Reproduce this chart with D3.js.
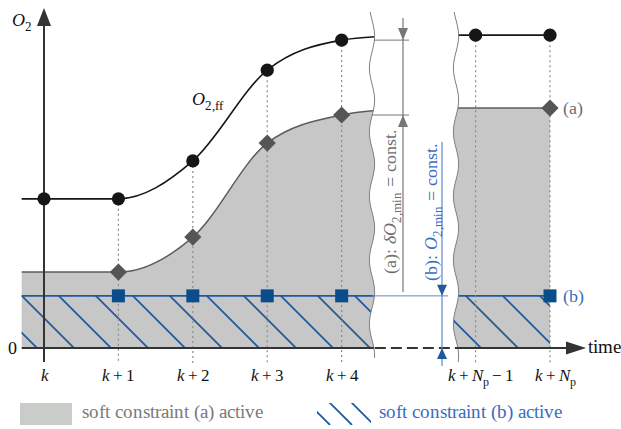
<!DOCTYPE html>
<html>
<head>
<meta charset="utf-8">
<script src="https://cdn.jsdelivr.net/npm/d3@7"></script>
<style>
  @font-face { font-family: "ChartSerif"; font-style: normal; src: local("Liberation Serif"), local("LiberationSerif"); }
  @font-face { font-family: "ChartSerif"; font-style: italic; src: local("Liberation Serif Italic"), local("LiberationSerif-Italic"); }
  html, body { margin: 0; padding: 0; background: #fff; }
  svg text, svg tspan { font-family: "ChartSerif", "Liberation Serif", "Times New Roman", serif; }
</style>
</head>
<body>
<svg id="chart" width="621" height="429"></svg>
<script>
// Prediction horizon steps ("_" marks a subscript)
const stepLabels = ["k", "k+1", "k+2", "k+3", "k+4", "k+N_p−1", "k+N_p"];
// Position of each step along the (broken) time axis
const stepSlots = [0, 1, 2, 3, 4, 5.8, 6.8];

// Feed-forward O2 trajectory O2,ff at each step
const o2ff = [4.52, 4.52, 5.67, 8.42, 9.33, 9.48, 9.48];
// Soft constraint (a): bound following O2,ff at a constant distance δO2,min
const o2a = [2.30, 2.30, 3.36, 6.21, 7.06, 7.27, 7.27];
// Soft constraint (b): constant bound O2,min
const o2min = 1.58;
// Values of both trajectories just past the left axis break
const ffBeyond = 9.45;
const aBeyond = 7.22;

// Which steps carry markers
const circleSteps = [0, 1, 2, 3, 4, 5, 6];
const diamondSteps = [1, 2, 3, 4, 6];
const squareSteps = [1, 2, 3, 4, 6];
const dottedSteps = [1, 2, 3, 4, 5, 6];

const W = 621, H = 429;
const FONT = "ChartSerif, Liberation Serif, serif";
const svg = d3.select("#chart");
const x = d3.scaleLinear().domain([0, 6.8]).range([44, 550]);
const y = d3.scaleLinear().domain([0, 10]).range([348, 18]);

const C = {
  fill: "#c7c7c7",
  edge: "#5c5c5c",
  diamond: "#555555",
  circle: "#161616",
  blue: "#1f5b9b",
  square: "#0b4d8b",
  blueText: "#3a6dc0",
  blueLight: "#5b8bc8",
  gray: "#777777",
  axis: "#333333",
  dotted: "#8c8c8c"
};

const xStart = x(-0.3);
const breakL = 372, breakR = 456;
const wave = (base, v) => base + 2.6 * Math.sin((v - 20) / 64 * 2 * Math.PI);
const waveLine = (base, y0, y1) => d3.range(y0, y1 + 0.1, 2).map(v => [wave(base, v), v]);
const poly = pts => "M" + pts.map(p => p[0].toFixed(2) + "," + p[1].toFixed(2)).join("L") + "Z";
const line = d3.line();

// ---- clip regions on either side of the axis break
const defs = svg.append("defs");
defs.append("clipPath").attr("id", "clipL").append("path")
  .attr("d", poly([[-10, 0], ...waveLine(breakL, 0, H), [-10, H]]));
defs.append("clipPath").attr("id", "clipR").append("path")
  .attr("d", poly([[W + 20, 0], ...waveLine(breakR, 0, H), [W + 20, H]]));
defs.append("clipPath").attr("id", "band").append("rect")
  .attr("x", xStart).attr("y", y(o2min))
  .attr("width", x(6.8) - xStart).attr("height", y(0) - y(o2min));
defs.append("clipPath").attr("id", "legendHatch").append("rect")
  .attr("x", 317).attr("y", 403).attr("width", 54).attr("height", 22);

// ---- data for the visible pieces of each trajectory
const leftIdx = [0, 1, 2, 3, 4];
const ffLeft = [[-0.3, o2ff[0]], ...leftIdx.map(i => [stepSlots[i], o2ff[i]]), [4.6, ffBeyond]];
const aLeft = [[-0.3, o2a[0]], ...leftIdx.map(i => [stepSlots[i], o2a[i]]), [4.6, aBeyond]];
const ffRight = [[5.0, o2ff[5]], [stepSlots[5], o2ff[5]], [stepSlots[6], o2ff[6]]];
const aRight = [[5.0, o2a[5]], [stepSlots[6], o2a[6]]];

const area = d3.area().x(d => x(d[0])).y0(y(0)).y1(d => y(d[1]));
const curve = d3.line().x(d => x(d[0])).y(d => y(d[1]));

const gL = svg.append("g").attr("clip-path", "url(#clipL)");
const gR = svg.append("g").attr("clip-path", "url(#clipR)");

// grey region: soft constraint (a) active
gL.append("path").datum(aLeft).attr("d", area.curve(d3.curveMonotoneX)).attr("fill", C.fill);
gR.append("path").datum(aRight).attr("d", area.curve(d3.curveLinear)).attr("fill", C.fill);

// hatching: soft constraint (b) active
const hatchLines = d3.range(-2, 16).map(n => {
  const xb = 37 + 37 * n;
  return [[xb - 70, y(0) - 70], [xb + 10, y(0) + 10]];
});
[gL, gR].forEach(g => {
  g.append("g").attr("clip-path", "url(#band)")
    .selectAll("path").data(hatchLines).join("path")
    .attr("d", line).attr("stroke", C.blue).attr("stroke-width", 1.8).attr("fill", "none");
});

// O2,min line
gL.append("line").attr("x1", xStart).attr("x2", x(4.6)).attr("y1", y(o2min)).attr("y2", y(o2min))
  .attr("stroke", C.blue).attr("stroke-width", 1.6);
gR.append("line").attr("x1", x(5.0)).attr("x2", x(6.8)).attr("y1", y(o2min)).attr("y2", y(o2min))
  .attr("stroke", C.blue).attr("stroke-width", 1.6);

// upper edge of the grey region
gL.append("path").datum(aLeft).attr("d", curve.curve(d3.curveMonotoneX))
  .attr("fill", "none").attr("stroke", C.edge).attr("stroke-width", 1.5);
gR.append("path").datum(aRight).attr("d", curve.curve(d3.curveLinear))
  .attr("fill", "none").attr("stroke", C.edge).attr("stroke-width", 1.5);

// dotted step guides
svg.append("g").selectAll("line").data(dottedSteps).join("line")
  .attr("x1", i => x(stepSlots[i])).attr("x2", i => x(stepSlots[i]))
  .attr("y1", i => y(o2ff[i])).attr("y2", 363)
  .attr("stroke", C.dotted).attr("stroke-width", 1.2).attr("stroke-dasharray", "2,3");

// break lines
[[breakL, 12, 358], [breakR, 12, 362]].forEach(([b, a0, a1]) => {
  svg.append("path").attr("d", line(waveLine(b, a0, a1)))
    .attr("fill", "none").attr("stroke", "#808080").attr("stroke-width", 1);
});

// ---- axes
const axisG = svg.append("g");
// time axis: solid, dashed across the break, solid again
axisG.append("line").attr("x1", xStart).attr("x2", wave(breakL, y(0))).attr("y1", y(0)).attr("y2", y(0))
  .attr("stroke", C.axis).attr("stroke-width", 2);
axisG.append("line").attr("x1", wave(breakL, y(0)) + 1).attr("x2", wave(breakR, y(0))).attr("y1", y(0)).attr("y2", y(0))
  .attr("stroke", C.axis).attr("stroke-width", 2).attr("stroke-dasharray", "11,5");
axisG.append("line").attr("x1", wave(breakR, y(0))).attr("x2", 570).attr("y1", y(0)).attr("y2", y(0))
  .attr("stroke", C.axis).attr("stroke-width", 2);
axisG.append("path").attr("d", poly([[586, y(0)], [566, y(0) - 6.5], [566, y(0) + 6.5]])).attr("fill", C.axis);
// O2 axis
axisG.append("line").attr("x1", x(0)).attr("x2", x(0)).attr("y1", 362).attr("y2", 24)
  .attr("stroke", C.axis).attr("stroke-width", 2);
axisG.append("path").attr("d", poly([[x(0), 8], [x(0) - 7, 26], [x(0) + 7, 26]])).attr("fill", C.axis);

function drawParts(t, parts, fs) {
  let down = 0;
  parts.forEach(p => {
    const sp = t.append("tspan").text(p.t);
    const want = p.sub ? fs * 0.3 : 0;
    if (want !== down) { sp.attr("dy", want - down); down = want; }
    if (p.sub) sp.attr("font-size", fs * 0.72);
    if (p.i) sp.attr("font-style", "italic");
  });
}
function parseLabel(s) {
  return s.match(/_[^_]+?(?=[−+]|$)|[kN]|[^kN_]+/g).map(tok =>
    tok[0] === "_" ? { t: tok.slice(1), sub: 1 }
    : /^[kN]$/.test(tok) ? { t: tok, i: 1 }
    : { t: tok.replace(/([+−])/g, "\u2009$1\u2009") });
}

// step labels
const tickFs = 17;
const gx = svg.append("g").attr("transform", `translate(0,${y(0)})`)
  .call(d3.axisBottom(x).tickValues(stepSlots).tickSize(0).tickPadding(21).tickFormat(() => ""));
gx.select(".domain").remove();
gx.attr("font-family", FONT).attr("font-size", tickFs);
gx.selectAll(".tick text").each(function (d, i) {
  const t = d3.select(this).attr("fill", "#111");
  if (stepLabels[i].includes("_")) t.attr("dx", 5);
  drawParts(t, parseLabel(stepLabels[i]), tickFs);
});

// zero label
const gy = svg.append("g").attr("transform", `translate(${xStart},0)`)
  .call(d3.axisLeft(y).tickValues([0]).tickSize(0).tickPadding(5).tickFormat(d3.format("d")));
gy.select(".domain").remove();
gy.attr("font-family", FONT).attr("font-size", 18);
gy.selectAll(".tick text").attr("fill", "#111");

// ---- trajectory O2,ff
gL.append("path").datum(ffLeft).attr("d", curve.curve(d3.curveMonotoneX))
  .attr("fill", "none").attr("stroke", C.circle).attr("stroke-width", 1.6);
gR.append("path").datum(ffRight).attr("d", curve.curve(d3.curveLinear))
  .attr("fill", "none").attr("stroke", C.circle).attr("stroke-width", 1.6);

// ---- dimension: (a) δO2,min
const dimA = svg.append("g").attr("stroke", C.gray).attr("fill", C.gray);
dimA.append("line").attr("x1", 403).attr("x2", 403).attr("y1", 18).attr("y2", 292).attr("stroke-width", 1.2);
[o2ff[4], o2a[4]].forEach(v => {
  dimA.append("line").attr("x1", wave(breakL, y(v))).attr("x2", 409).attr("y1", y(v)).attr("y2", y(v)).attr("stroke-width", 1);
});
dimA.append("path").attr("stroke", "none")
  .attr("d", poly([[403, y(o2ff[4])], [398, y(o2ff[4]) - 12], [408, y(o2ff[4]) - 12]]));
dimA.append("path").attr("stroke", "none")
  .attr("d", poly([[403, y(o2a[4])], [398, y(o2a[4]) + 12], [408, y(o2a[4]) + 12]]));

// ---- dimension: (b) O2,min
const dimB = svg.append("g").attr("stroke", C.blueLight).attr("fill", C.blue);
dimB.append("line").attr("x1", breakL).attr("x2", 448).attr("y1", y(o2min)).attr("y2", y(o2min)).attr("stroke-width", 1);
dimB.append("line").attr("x1", 442).attr("x2", 442).attr("y1", 142).attr("y2", 366).attr("stroke-width", 1.2);
dimB.append("path").attr("stroke", "none")
  .attr("d", poly([[442, y(o2min)], [437, y(o2min) - 11], [447, y(o2min) - 11]]));
dimB.append("path").attr("stroke", "none")
  .attr("d", poly([[442, y(0)], [437, y(0) + 11], [447, y(0) + 11]]));

const rotFs = 18;
const tA = svg.append("text").attr("transform", "translate(396,201) rotate(-90)")
  .attr("text-anchor", "middle").attr("font-size", rotFs).attr("fill", "#6e6e6e");
drawParts(tA, [{ t: "(a): " }, { t: "δO", i: 1 }, { t: "2,min", sub: 1 }, { t: " = const." }], rotFs);
const tB = svg.append("text").attr("transform", "translate(437,212) rotate(-90)")
  .attr("text-anchor", "middle").attr("font-size", rotFs).attr("fill", C.blueText);
drawParts(tB, [{ t: "(b): " }, { t: "O", i: 1 }, { t: "2,min", sub: 1 }, { t: " = const." }], rotFs);

// ---- markers
const mk = svg.append("g");
mk.selectAll("path.sq").data(squareSteps).join("path")
  .attr("d", d3.symbol(d3.symbolSquare, 169))
  .attr("transform", i => `translate(${x(stepSlots[i])},${y(o2min)})`)
  .attr("fill", C.square);
mk.selectAll("path.dia").data(diamondSteps).join("path")
  .attr("d", d3.symbol(d3.symbolSquare, 148))
  .attr("transform", i => `translate(${x(stepSlots[i])},${y(o2a[i])}) rotate(45)`)
  .attr("fill", C.diamond);
mk.selectAll("circle").data(circleSteps).join("circle")
  .attr("cx", i => x(stepSlots[i])).attr("cy", i => y(o2ff[i])).attr("r", 6.6)
  .attr("fill", C.circle);

// ---- text labels
const o2Lab = svg.append("text").attr("x", 12).attr("y", 26).attr("font-size", 18).attr("fill", "#111");
drawParts(o2Lab, [{ t: "O", i: 1 }, { t: "2", sub: 1 }], 18);
const ffLab = svg.append("text").attr("x", 192).attr("y", 105).attr("font-size", 18).attr("fill", "#111");
drawParts(ffLab, [{ t: "O", i: 1 }, { t: "2,ff", sub: 1 }], 18);
svg.append("text").attr("x", 588).attr("y", 353).attr("font-size", 18.5).attr("fill", "#111").text("time");
svg.append("text").attr("x", 563).attr("y", y(o2a[6]) + 6).attr("font-size", 18).attr("fill", "#6e6e6e").text("(a)");
svg.append("text").attr("x", 563).attr("y", y(o2min) + 6).attr("font-size", 18).attr("fill", C.blueText).text("(b)");

// ---- legend
svg.append("rect").attr("x", 20).attr("y", 403).attr("width", 52).attr("height", 22).attr("fill", "#c9ccc9");
svg.append("text").attr("x", 82).attr("y", 418).attr("font-size", 18.5).attr("fill", "#7a7a7a")
  .text("soft constraint (a) active");
svg.append("g").attr("clip-path", "url(#legendHatch)")
  .selectAll("path").data(d3.range(0, 4).map(n => {
    const xb = 330 + 22 * n;
    return [[xb - 30, 395], [xb + 0, 425]];
  })).join("path")
  .attr("d", line).attr("stroke", C.blue).attr("stroke-width", 1.8).attr("fill", "none");
svg.append("text").attr("x", 379).attr("y", 418).attr("font-size", 18.5).attr("fill", C.blueText)
  .text("soft constraint (b) active");

// serif face on every label
svg.selectAll("text, tspan").attr("font-family", FONT);
</script>
</body>
</html>
